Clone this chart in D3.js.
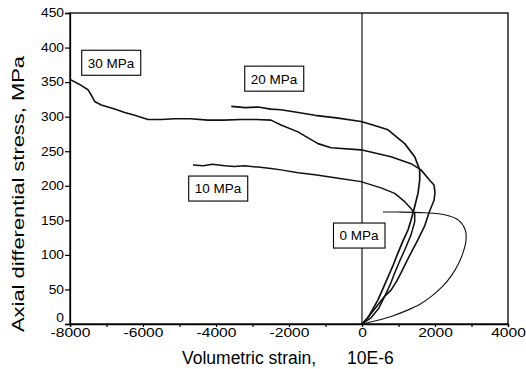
<!DOCTYPE html>
<html><head><meta charset="utf-8">
<script src="https://cdn.jsdelivr.net/npm/d3@7"></script>
<style>body{margin:0;background:#fff} svg{display:block}</style>
</head><body><svg id="c" width="526" height="369"></svg>
<script>
// ---- data ----
const xTickValues = [-8000,-7000,-6000,-5000,-4000,-3000,-2000,-1000,0,1000,2000,3000,4000];
const xTickLabels = ["-8000","-6000","-4000","-2000","0","2000","4000"];
const yTickValues = [0,50,100,150,200,250,300,350,400,450];
const seriesNames = ["0 MPa","10 MPa","20 MPa","30 MPa"];

// [volumetric strain (10E-6), axial differential stress (MPa)]
const curve0MPa = [[0,0],[400,5],[800,11],[1200,19],[1600,29],[1900,40],[2200,54],[2450,70],[2650,88],
  [2780,105],[2849,121],[2830,136],[2650,150],[2266,158],[1718,161],[986,162],[575,162]];
const curve10MPa = [[0,0],[247,9],[450,22],[622,40],[780,58],[896,74],[1040,92],[1170,107],[1343,129],
  [1444,148],[1444,160],[1343,167],[1170,177],[896,189],[521,197],[-27,206],[-650,211],[-1288,216],
  [-1750,219],[-2219,223],[-2493,225],[-2850,227],[-3214,229],[-3500,228],[-3762,229],[-4100,231],[-4350,229],[-4630,230]];
const curve20MPa = [[0,0],[164,9],[300,22],[438,35],[580,52],[712,68],[860,86],[986,103],[1120,120],[1260,136],
  [1343,150],[1444,170],[1534,189],[1581,208],[1581,223],[1444,242],[1170,261],[712,281],[300,288],
  [-27,293],[-650,298],[-1288,302],[-1750,306],[-2219,310],[-2500,311],[-2850,314],[-3200,313],[-3581,315]];
const curve30MPa = [[0,0],[200,12],[438,28],[620,40],[795,49],[950,62],[1069,74],[1200,88],[1343,103],
  [1534,122],[1718,142],[1836,161],[1973,179],[2000,190],[1973,201],[1855,208],[1617,223],[1343,232],
  [795,242],[-27,252],[-849,255],[-1206,261],[-1500,270],[-1754,278],[-2219,288],[-2493,295],[-2900,296],
  [-3315,296],[-3800,295],[-4220,295],[-4700,297],[-5132,297],[-5500,296],[-5864,296],[-6228,302],
  [-6500,306],[-6776,311],[-7143,317],[-7325,322],[-7416,331],[-7507,339],[-7750,347],[-8000,354]];

const labelTexts = ["30 MPa","20 MPa","10 MPa","0 MPa"];
const labelStrain = [-6877,-2411,-3946,-82];
const labelStress = [378,355,196,128];

// ---- layout ----
const W = 526, H = 369;
const m = {left:70, right:18, top:13, bottom:45};
const svg = d3.select("#c");
const x = d3.scaleLinear().domain([-8000,4000]).range([m.left, W - m.right]);
const y = d3.scaleLinear().domain([0,450]).range([H - m.bottom, m.top]);
const font = "Arial, 'Liberation Sans', Helvetica, sans-serif";

// zero line
svg.append("line").attr("x1", x(0)).attr("x2", x(0)).attr("y1", y(0)).attr("y2", y(450))
  .attr("stroke","#000").attr("stroke-width",1.1);

// curves
const lineLin = d3.line().x(d => x(d[0])).y(d => y(d[1])).curve(d3.curveLinear);
const lineSmooth = d3.line().x(d => x(d[0])).y(d => y(d[1])).curve(d3.curveCatmullRom);
const curves = [curve0MPa, curve10MPa, curve20MPa, curve30MPa];
const widths = [1.1, 1.5, 1.7, 1.6];
svg.append("g").selectAll("path").data(curves).join("path")
  .attr("d", (d,i) => i === 0 ? lineSmooth(d) : lineLin(d)).attr("fill","none").attr("stroke","#111")
  .attr("stroke-width",(d,i)=>widths[i]).attr("stroke-linejoin","round");

// frame
svg.append("rect").attr("x", x(-8000)).attr("y", y(450)).attr("width", x(4000)-x(-8000))
  .attr("height", y(0)-y(450)).attr("fill","none").attr("stroke","#000").attr("stroke-width",1.3);

// axes
const xAxis = svg.append("g").attr("transform",`translate(0,${y(0)})`)
  .call(d3.axisBottom(x).tickValues(xTickValues).tickSize(3).tickPadding(1)
    .tickFormat(d => xTickLabels.includes(String(d)) ? String(d) : ""));
const yAxis = svg.append("g").attr("transform",`translate(${x(-8000)},0)`)
  .call(d3.axisLeft(y).tickValues(yTickValues).tickSize(5).tickPadding(1).tickFormat(d3.format("d")));
[xAxis,yAxis].forEach(g => {
  g.select(".domain").attr("stroke","#000").attr("stroke-width",1.3);
  g.selectAll(".tick line").attr("stroke","#000").attr("stroke-width",1.2);
  g.selectAll("text").attr("font-family",font).attr("font-size",12).attr("fill","#000");
});
xAxis.selectAll("text").attr("dy","0.71em").each(function(){ const w=this.getComputedTextLength(); if(w>0){ d3.select(this).attr("textLength", w*1.3).attr("lengthAdjust","spacingAndGlyphs"); }});
yAxis.selectAll("text").each(function(){ const w=this.getComputedTextLength(); if(w>0){ d3.select(this).attr("textLength", w*1.15).attr("lengthAdjust","spacingAndGlyphs"); }});
yAxis.selectAll(".tick").filter(d => d === 0).select("text").attr("dy","-0.2em");

// axis titles
const xt = svg.append("text").attr("y",364).attr("font-family",font).attr("font-size",17.5).attr("fill","#000");
xt.append("tspan").attr("x",182).text("Volumetric strain,");
xt.append("tspan").attr("x",347).text("10E-6");
svg.append("text").attr("transform","translate(23.5,194) rotate(-90)").attr("text-anchor","middle")
  .attr("font-family",font).attr("font-size",17).attr("fill","#000")
  .attr("textLength",276).attr("lengthAdjust","spacingAndGlyphs")
  .text("Axial differential stress, MPa");

// series labels
labelTexts.forEach((t,i) => {
  const g = svg.append("g");
  const tx = g.append("text").attr("x", x(labelStrain[i])).attr("y", y(labelStress[i]))
    .attr("dy","0.36em").attr("text-anchor","middle").attr("font-family",font)
    .attr("font-size",13.5).attr("fill","#000").text(t);
  const bb = tx.node().getBBox();
  g.insert("rect","text").attr("x", bb.x-6).attr("y", y(labelStress[i])-12.5)
    .attr("width", bb.width+12).attr("height", 25)
    .attr("fill","#fff").attr("stroke","#000").attr("stroke-width",1.1);
});
</script></body></html>
